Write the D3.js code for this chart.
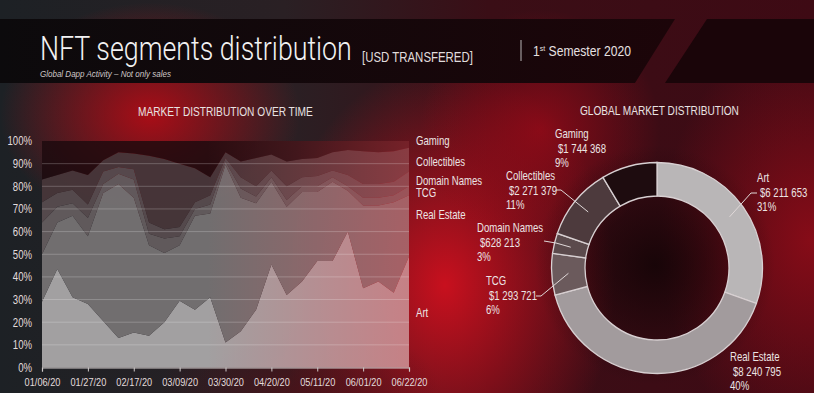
<!DOCTYPE html>
<html><head><meta charset="utf-8">
<script src="https://cdn.jsdelivr.net/npm/d3@7"></script>
<style>html,body{margin:0;padding:0;background:#1e1a1c;overflow:hidden}svg{display:block}</style>
</head><body>
<svg id="c" width="814" height="393"></svg>
<script>
// ---------- DATA ----------
const weeks = ["01/06/20","01/13/20","01/20/20","01/27/20","02/03/20","02/10/20","02/17/20","02/24/20","03/02/20","03/09/20","03/16/20","03/23/20","03/30/20","04/06/20","04/13/20","04/20/20","04/27/20","05/04/20","05/11/20","05/18/20","05/25/20","06/01/20","06/08/20","06/15/20","06/22/20"];
const yTickValues = [0,10,20,30,40,50,60,70,80,90,100];
const layerNames = ["Art","Real Estate","TCG","Domain Names","Collectibles","Gaming"];
const art          = [29,43.5,31,28,20.5,13,15.5,14,20,29.5,25.5,31,11,16,25.5,45.5,32,38,47,47,60,35,38,33,49];
const realEstate   = [21,20.5,36,30,56.5,68,59.5,40,30.5,24.5,41.5,37,78.5,59,47,36.5,39,39.5,30.5,35,18,36.5,33.5,40,27];
const tcg          = [14,7,5.5,8,4,4.5,8,5,6.5,4,3,4,1.5,4,3,2,3,2.5,2.5,2,2,3.5,3.5,3,4];
const domainNames  = [9,6,6,6,5.5,3,4.5,5,4,4,3,4,1.5,5,4.5,3,6,4,4.5,3,5,6,6,6,6.5];
const collectibles = [10,8,8.5,13,5,6.5,7,29.5,31,28,15,8,2.5,7,12.5,7,11,8,8,8,11,14.5,14,13.5,10.5];
const gaming       = [17,15,13,15,8.5,5,5.5,6.5,8,10,12,16,5,9,7.5,6,9,8,7.5,5,4,4.5,5,4.5,3];

const pieNames  = ["Art","Real Estate","TCG","Domain Names","Collectibles","Gaming"];
const pieValues = [6211653,8240795,1293721,628213,2271379,1744368];
const piePct    = ["31%","40%","6%","3%","11%","9%"];

// ---------- SETUP ----------
const svg = d3.select("#c");
const defs = svg.append("defs");
const FONT = "'Liberation Sans', Arial, sans-serif";

function radial(id, cx, cy, r, color, op, sy) {
  const g = defs.append("radialGradient").attr("id", id).attr("gradientUnits","userSpaceOnUse")
    .attr("cx",cx).attr("cy",cy).attr("r",r)
    .attr("gradientTransform",`translate(${cx},${cy}) scale(1,${sy||1}) translate(${-cx},${-cy})`);
  g.append("stop").attr("offset","0").attr("stop-color",color).attr("stop-opacity",op);
  g.append("stop").attr("offset","1").attr("stop-color",color).attr("stop-opacity",0);
}
const base = defs.append("linearGradient").attr("id","base").attr("x1",0).attr("x2",1).attr("y1",0).attr("y2",0);
[["0","#1d2125"],["0.35","#2a2024"],["0.6","#3a0e16"],["1","#3e0a14"]].forEach(s=>base.append("stop").attr("offset",s[0]).attr("stop-color",s[1]));
radial("g1",150,115,150,"#b00c16",0.95,0.75);
radial("g2",445,285,170,"#c8101e",1,1.3);
radial("g3",810,240,150,"#8e0c18",0.9,1.4);
radial("g4",540,130,120,"#9a0a18",0.8,1);
radial("g5",655,265,120,"#120406",0.85,1);
radial("g6",300,390,140,"#5a0c14",0.6,0.5);
svg.append("rect").attr("width",814).attr("height",393).attr("fill","url(#base)");
["g1","g2","g3","g4","g6","g5"].forEach(id=>svg.append("rect").attr("width",814).attr("height",393).attr("fill",`url(#${id})`));

// header bands
const hb = defs.append("linearGradient").attr("id","hb").attr("x1",0).attr("x2",1);
hb.append("stop").attr("offset","0").attr("stop-color","#0c0a0c");
hb.append("stop").attr("offset","1").attr("stop-color","#1c0509");
svg.append("polygon").attr("points","0,19 675,19 635,83 0,83").attr("fill","url(#hb)");
svg.append("polygon").attr("points","707,19 814,19 814,83 665,83").attr("fill","#1a0509");

function label(parent, x, y, s, size, opts={}) {
  const g = parent.append("g").attr("transform",`translate(${x},${y}) scale(${opts.sx||0.8},1)`);
  return g.append("text").attr("font-family",FONT).attr("font-size",size)
    .attr("fill",opts.fill||"#ece4e4").attr("text-anchor",opts.anchor||"start")
    .attr("dy","0.35em").text(s);
}
// text squeezed horizontally to a target width (baseline at y)
function fitText(x, y, width, size, opts={}) {
  const g = svg.append("g");
  const t = g.append("text").attr("font-family",opts.family||FONT).attr("font-size",size)
    .attr("font-weight",opts.weight||400).attr("font-style",opts.style||"normal")
    .attr("fill",opts.fill||"#ece4e4");
  return {g, t, fit(){ const w = t.node().getComputedTextLength(); g.attr("transform",`translate(${x},${y}) scale(${width/w},1)`); }};
}

// ---------- HEADER TEXT ----------
let f = fitText(40, 60, 312, 33, {family:"Roboto, 'Liberation Sans', sans-serif", weight:300, fill:"#f2f2f2"});
f.t.text("NFT segments distribution"); f.fit();
f = fitText(362, 61.5, 111, 15.5, {fill:"#e0dcdc"}); f.t.text("[USD TRANSFERED]"); f.fit();
f = fitText(40, 77, 131, 8.5, {style:"italic", fill:"#cfc8c8"}); f.t.text("Global Dapp Activity – Not only sales"); f.fit();
svg.append("line").attr("x1",521).attr("x2",521).attr("y1",40).attr("y2",61).attr("stroke","#a09a9c").attr("stroke-width",1.2);
f = fitText(533, 55.5, 98, 14, {fill:"#e6e0e0"});
f.t.append("tspan").text("1");
f.t.append("tspan").attr("font-size",8).attr("dy",-5).text("st");
f.t.append("tspan").attr("dy",5).text(" Semester 2020");
f.fit();

// ---------- AREA CHART ----------
const X0 = 42, X1 = 409, Y0 = 367.5, Y1 = 141;
const x = d3.scaleLinear().domain([0, weeks.length-1]).range([X0, X1]);
const y = d3.scaleLinear().domain([0,100]).range([Y0, Y1]);
const rows = weeks.map((w,i)=>({"Art":art[i],"Real Estate":realEstate[i],"TCG":tcg[i],"Domain Names":domainNames[i],"Collectibles":collectibles[i],"Gaming":gaming[i]}));
const stacked = d3.stack().keys(layerNames)(rows);
const layerColors = {"Art":"#a6a4a5","Real Estate":"#747172","TCG":"#625b5d","Domain Names":"#564a4d","Collectibles":"#463639","Gaming":"#1c0a0d"};
const area = d3.area().x((d,i)=>x(i)).y0(d=>y(d[0])).y1(d=>y(d[1]));
const chart = svg.append("g");
chart.selectAll("path.layer").data(stacked).join("path").attr("class","layer")
  .attr("d",area).attr("fill",d=>layerColors[d.key]).attr("fill-opacity",d=>d.key==="Gaming"?0.82:0.97);

// red tint overlay on the right side
const ov = defs.append("linearGradient").attr("id","ov").attr("gradientUnits","userSpaceOnUse").attr("x1",X0).attr("x2",X1).attr("y1",0).attr("y2",0);
ov.append("stop").attr("offset","0.45").attr("stop-color","#ff4a55").attr("stop-opacity",0);
ov.append("stop").attr("offset","1").attr("stop-color","#ff4a55").attr("stop-opacity",0.36);
chart.append("rect").attr("x",X0).attr("y",Y1).attr("width",X1-X0).attr("height",Y0-Y1).attr("fill","url(#ov)");

// gridlines
chart.selectAll("line.grid").data(yTickValues.filter(v=>v>0&&v<100)).join("line").attr("class","grid")
  .attr("x1",X0).attr("x2",X1).attr("y1",d=>y(d)).attr("y2",d=>y(d))
  .attr("stroke","#ffffff").attr("stroke-opacity",0.22).attr("stroke-width",1);

// x axis
const xAxis = chart.append("g").attr("transform",`translate(0,${Y0})`)
  .call(d3.axisBottom(x).tickValues(d3.range(0,weeks.length,3)).tickFormat(i=>weeks[i]).tickSize(4).tickPadding(6));
xAxis.select(".domain").attr("stroke","#cfcaca").attr("stroke-width",1.2);
xAxis.selectAll(".tick line").attr("stroke","#cfcaca");
xAxis.selectAll(".tick text").attr("font-family",FONT).attr("font-size",11.5).attr("fill","#e2dcdc")
  .attr("transform","scale(0.8,1)");

// y axis
const yAxis = chart.append("g").attr("transform",`translate(${X0},0)`)
  .call(d3.axisLeft(y).tickValues(yTickValues).tickFormat(d=>d+"%").tickSize(0).tickPadding(10));
yAxis.select(".domain").remove();
yAxis.selectAll(".tick text").attr("font-family",FONT).attr("font-size",12).attr("fill","#e2dcdc")
  .attr("x",-12.5).attr("transform","scale(0.8,1)");

// chart title
f = fitText(138, 115.5, 175, 12.5, {fill:"#e8e2e2"}); f.t.text("MARKET DISTRIBUTION OVER TIME"); f.fit();

// legend (layer names on the right)
const legendAt = {"Gaming":100,"Collectibles":91,"Domain Names":82.6,"TCG":77,"Real Estate":67.6,"Art":24};
layerNames.forEach(n=>label(svg, 416, y(legendAt[n]), n, 12, {sx:0.8}));

// ---------- DONUT ----------
const cx = 657, cy = 268, rIn = 72, rOut = 105.5;
const pieColors = {"Art":"#b9b6b7","Real Estate":"#a29b9d","TCG":"#6b5a5c","Domain Names":"#5b4a4c","Collectibles":"#4d3a3d","Gaming":"#1e0c0f"};
const pie = d3.pie().sort(null).value(d=>d.v);
const arcs = pie(pieNames.map((n,i)=>({n, v:pieValues[i], p:piePct[i]})));
const arc = d3.arc().innerRadius(rIn).outerRadius(rOut);
const donut = svg.append("g").attr("transform",`translate(${cx},${cy})`);
donut.selectAll("path").data(arcs).join("path").attr("d",arc)
  .attr("fill",d=>pieColors[d.data.n]).attr("stroke","#d8d0d2").attr("stroke-width",1.3);

f = fitText(580, 114.5, 159, 12.5, {fill:"#e8e2e2"}); f.t.text("GLOBAL MARKET DISTRIBUTION"); f.fit();

const fmt = d3.formatLocale({decimal:".",thousands:" ",grouping:[3],currency:["$",""]}).format("$,");
const pieLayout = {
  "Art":          {x:757, y:178, lead:[[757,193],[751,193]]},
  "Real Estate":  {x:730, y:357},
  "TCG":          {x:486, y:281, lead:[[536,296],[541,296]]},
  "Domain Names": {x:477, y:228, lead:[[544,241],[556,243]]},
  "Collectibles": {x:506, y:176, lead:[[556,190],[561,190]]},
  "Gaming":       {x:555, y:134}
};
arcs.forEach(a=>{
  const L = pieLayout[a.data.n];
  label(svg, L.x, L.y, a.data.n, 12, {sx:0.8});
  label(svg, L.x+3, L.y+14.5, fmt(a.data.v), 12, {sx:0.8});
  label(svg, L.x, L.y+29, a.data.p, 12, {sx:0.8});
  if (L.lead) {
    const c = arc.centroid(a);
    const pts = L.lead.concat([[cx+c[0], cy+c[1]]]);
    svg.append("path").attr("d", d3.line()(pts)).attr("fill","none").attr("stroke","#e0d8d8").attr("stroke-width",1);
  }
});
</script>
</body></html>
